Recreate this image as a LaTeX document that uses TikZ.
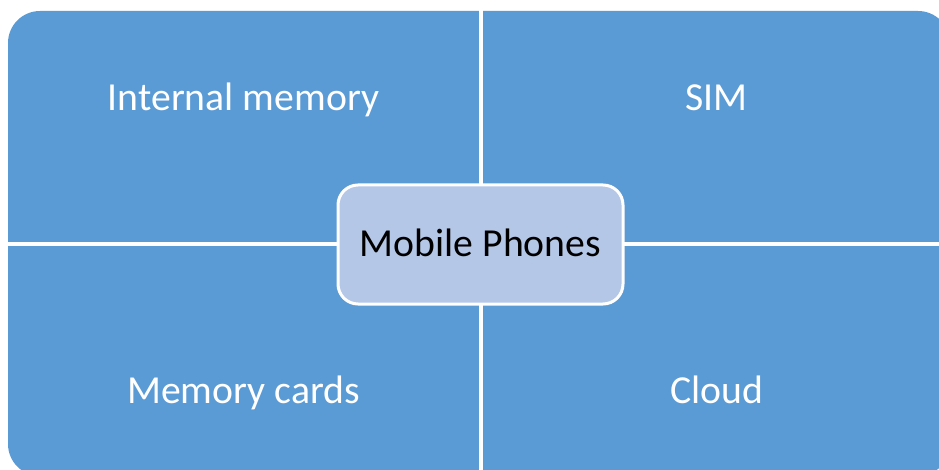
\documentclass[tikz,border=0pt]{standalone}
\usepackage{fontspec}
\setmainfont{Carlito}
\definecolor{quadblue}{HTML}{5B9BD5}
\definecolor{centerblue}{HTML}{B4C7E7}
\begin{document}
\begin{tikzpicture}[x=1pt,y=-1pt,
  quadlabel/.style={text=white,font=\fontsize{39.7}{48}\selectfont,anchor=base,inner sep=0pt},
  centerbox/.style={draw=white,line width=3pt,fill=centerblue,rounded corners=20pt,
    minimum width=285pt,minimum height=119pt,inner sep=0pt},
  divider/.style={draw=white,line width=4pt}]
\useasboundingbox (0,0) rectangle (939,470);
\clip (0,0) rectangle (939,470);
\fill[white] (0,0) rectangle (939,470);
\fill[quadblue,rounded corners=32pt] (8,11) rectangle (950,476);
\coordinate (vtop) at (481,0);
\coordinate (vbot) at (481,480);
\coordinate (hleft) at (0,244);
\coordinate (hright) at (960,244);
\draw[divider] (vtop) -- (vbot);
\draw[divider] (hleft) -- (hright);
\node[quadlabel] (internal) at (243.5,111) {Internal memory};
\node[quadlabel] (sim) at (716.5,111) {SIM};
\node[quadlabel] (cards) at (243.5,403) {Memory cards};
\node[quadlabel] (cloud) at (716.5,403) {Cloud};
\node[centerbox] (center) at (480.5,244.5) {};
\node[font=\fontsize{39.7}{48}\selectfont,anchor=base,inner sep=0pt] (centerlabel) at (480.5,257) {Mobile Phones};
\end{tikzpicture}
\end{document}
